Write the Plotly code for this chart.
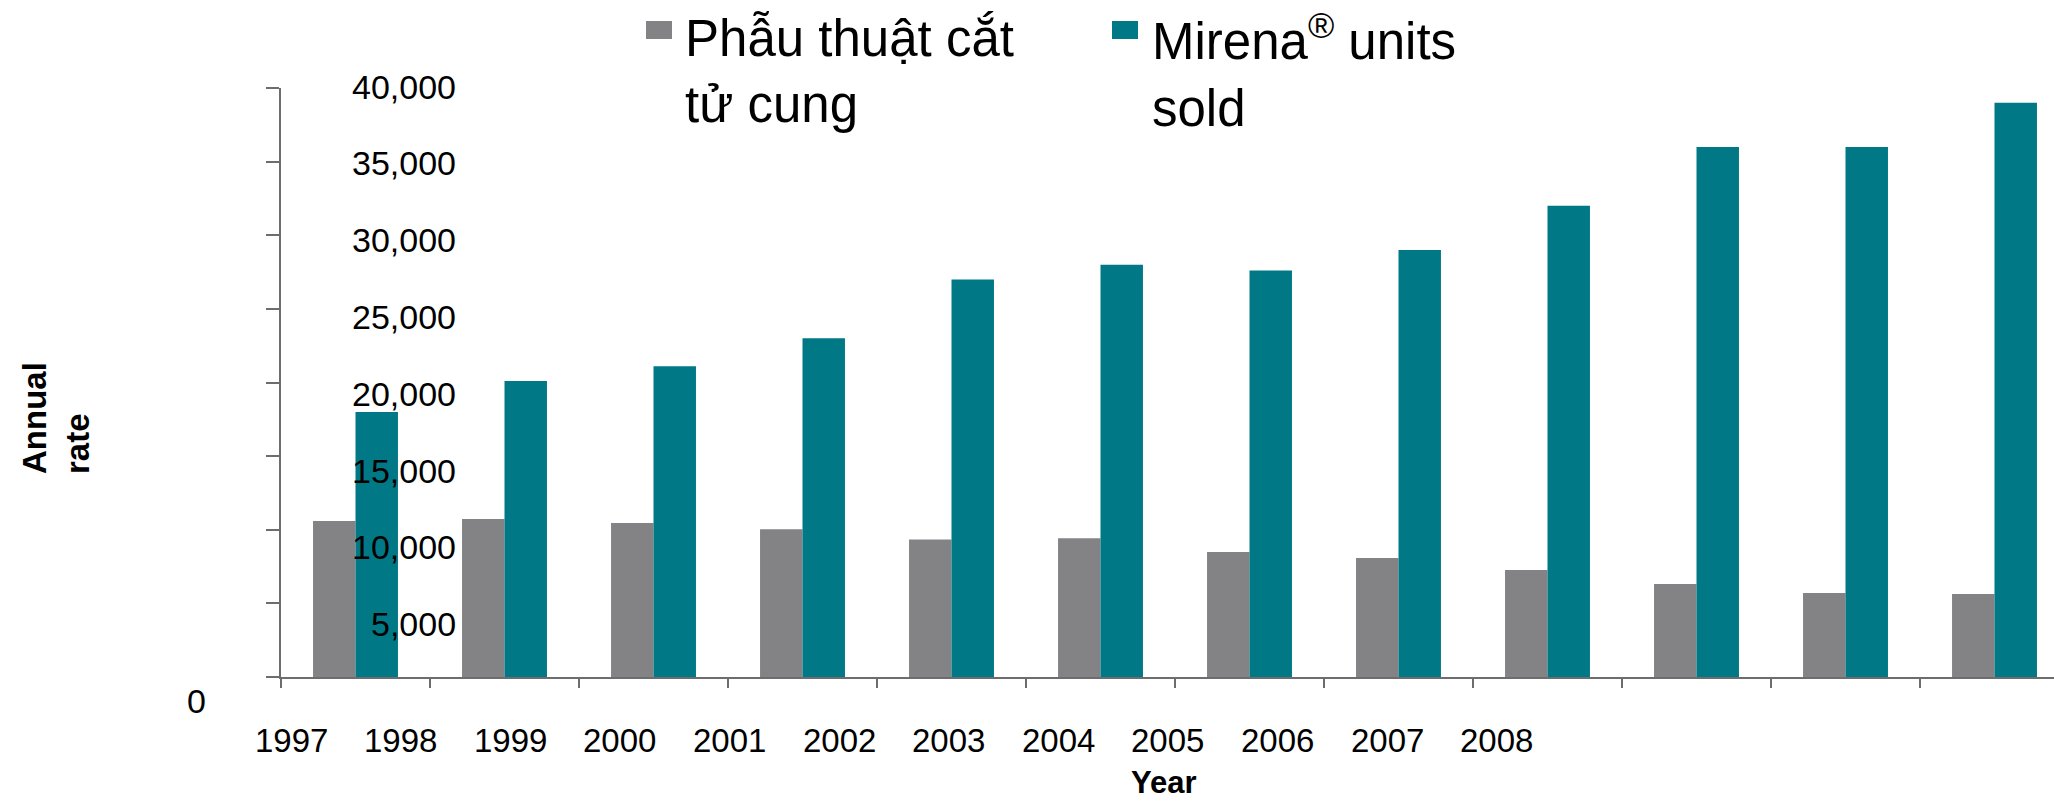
import plotly.graph_objects as go

# ---- data ----
years = ["1997", "1998", "1999", "2000", "2001", "2002", "2003", "2004", "2005", "2006", "2007", "2008"]
hysterectomy = [10600, 10730, 10460, 10040, 9330, 9420, 8490, 8080, 7270, 6320, 5710, 5640]
mirena_units = [18000, 20100, 21100, 23000, 27000, 28000, 27600, 29000, 32000, 36000, 36000, 39000]
y_tick_values = [5000, 10000, 15000, 20000, 25000, 30000, 35000, 40000]
y_tick_labels = ["5,000", "10,000", "15,000", "20,000", "25,000", "30,000", "35,000", "40,000"]
series_names = ["Phẫu thuật cắt<br>tử cung", "Mirena<sup>®</sup> units<br>sold"]
series_colors = ["#838385", "#017886"]

# ---- geometry (pixels) ----
W, H = 2054, 801
L, R, T, B = 281, 0, 88, 124
PW, PH = W - L - R, H - T - B
FONT = "Liberation Sans, Arial, sans-serif"
AXIS_COLOR = "#6d6d70"


def px_x(px):
    return (px - L) / PW


def px_y(py):
    return (H - B - py) / PH


fig = go.Figure()
fig.add_trace(go.Bar(x=years, y=hysterectomy, name="Phẫu thuật cắt tử cung",
                     marker=dict(color=series_colors[0], line=dict(width=0)), showlegend=False))
fig.add_trace(go.Bar(x=years, y=mirena_units, name="Mirena® units sold",
                     marker=dict(color=series_colors[1], line=dict(width=0)), showlegend=False))

annotations = []
# y tick labels (offset from the axis as in the original slide)
for v, lab in zip(y_tick_values, y_tick_labels):
    cy = 701 - v / 5000 * 76.8
    annotations.append(dict(text=lab, x=px_x(458), y=px_y(cy), xref="paper", yref="paper",
                            xanchor="right", yanchor="middle", showarrow=False,
                            font=dict(family=FONT, size=34, color="black")))
annotations.append(dict(text="0", x=px_x(196), y=px_y(701), xref="paper", yref="paper",
                        xanchor="center", yanchor="middle", showarrow=False,
                        font=dict(family=FONT, size=34, color="black")))
# x tick labels (offset as in the original)
for i, yr in enumerate(years):
    cx = 291 + i * 109.6
    annotations.append(dict(text=yr, x=px_x(cx), y=px_y(740), xref="paper", yref="paper",
                            xanchor="center", yanchor="middle", showarrow=False,
                            font=dict(family=FONT, size=33, color="black")))
# axis titles
annotations.append(dict(text="<b>Year</b>", x=px_x(1164), y=px_y(782), xref="paper", yref="paper",
                        xanchor="center", yanchor="middle", showarrow=False,
                        font=dict(family=FONT, size=31, color="black")))
annotations.append(dict(text="<b>Annual<br>rate</b>", x=px_x(56), y=px_y(418), xref="paper", yref="paper",
                        xanchor="center", yanchor="middle", showarrow=False, textangle=-90, align="left",
                        font=dict(family=FONT, size=33, color="black")))

# legend (custom, large swatches)
shapes = []
legend_swatch_x = [646, 1112]
legend_text_x = [683, 1150]
for name, col, sx, tx in zip(series_names, series_colors, legend_swatch_x, legend_text_x):
    shapes.append(dict(type="rect", xref="paper", yref="paper",
                       x0=px_x(sx), x1=px_x(sx + 26), y0=px_y(39), y1=px_y(21),
                       fillcolor=col, line=dict(width=0)))
    annotations.append(dict(text=name, x=px_x(tx), y=px_y(71), xref="paper", yref="paper",
                            xanchor="left", yanchor="middle", showarrow=False, align="left",
                            font=dict(family=FONT, size=51, color="black")))

fig.update_layout(
    width=W, height=H,
    margin=dict(l=L, r=R, t=T, b=B, pad=0),
    paper_bgcolor="white", plot_bgcolor="white",
    barmode="group", bargap=0.43, bargroupgap=0,
    font=dict(family=FONT, color="black"),
    annotations=annotations, shapes=shapes,
    showlegend=False,
)
fig.update_xaxes(type="category", range=[-0.5, -0.5 + PW / 149.0],
                 showticklabels=False, showgrid=False, zeroline=False,
                 showline=True, linecolor=AXIS_COLOR, linewidth=2,
                 ticks="outside", tickson="boundaries", ticklen=9, tickwidth=2, tickcolor=AXIS_COLOR)
fig.update_yaxes(range=[0, 40000], tickvals=[0] + y_tick_values, showticklabels=False,
                 showgrid=False, zeroline=False,
                 showline=True, linecolor=AXIS_COLOR, linewidth=2,
                 ticks="outside", ticklen=13, tickwidth=2, tickcolor=AXIS_COLOR)

fig.write_html("out.html", config={"displayModeBar": False},
               post_script="document.body.style.margin='0';document.body.style.overflow='hidden';")
